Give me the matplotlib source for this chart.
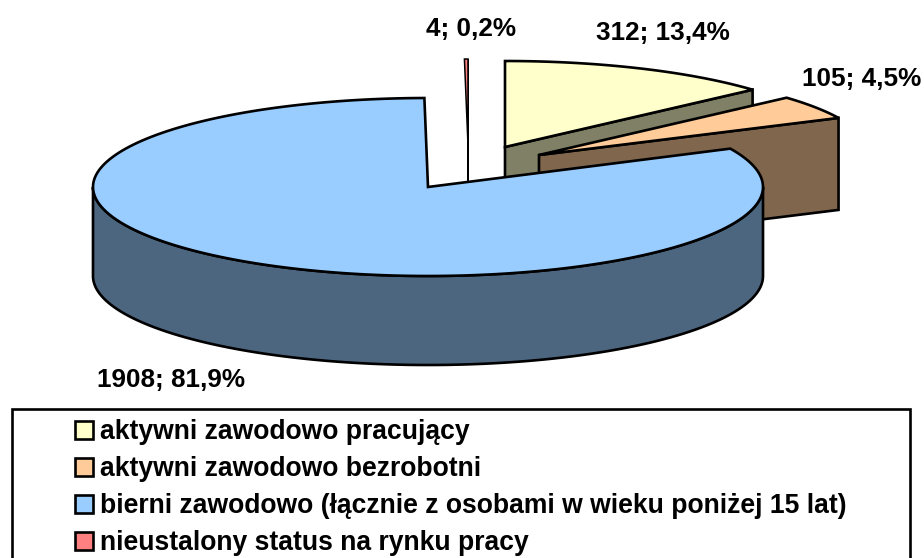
import matplotlib
matplotlib.use('Agg')
import matplotlib.pyplot as plt
from matplotlib.patches import Polygon, Rectangle, Patch
import numpy as np

plt.rcParams['font.family'] = ['Liberation Sans', 'DejaVu Sans']

categories = ['aktywni zawodowo pracujący', 'aktywni zawodowo bezrobotni',
              'bierni zawodowo (łącznie z osobami w wieku poniżej 15 lat)',
              'nieustalony status na rynku pracy']
counts = [312, 105, 1908, 4]
shares = ['13,4%', '4,5%', '81,9%', '0,2%']

top_colors = ['#FFFFCC', '#FFCC99', '#99CCFF', '#FF8080']
wall_colors = ['#808066', '#80664D', '#4D6680', '#804040']
centers = [(505, 147), (539, 155), (428, 187), (468, 145)]
radii = [(332, 86), (332, 86), (335, 89), (332, 86)]
depths = [92, 92, 89, 92]
edge_widths = [1.9, 1.9, 1.9, 1.1]
label_pos = [(663, 33), (862, 79), (171, 380), (471, 29)]

fig = plt.figure(figsize=(9.24, 5.58), dpi=100)
ax = fig.add_axes([0, 0, 1, 1])
ax.set_xlim(0, 924)
ax.set_ylim(558, 0)
ax.axis('off')


def rim(c, r, a):
    # a is degrees clockwise from 12 o'clock
    t = np.radians(a)
    return np.column_stack([c[0] + r[0] * np.sin(t), c[1] - r[1] * np.cos(t)])


fractions = np.array(counts) / sum(counts)
edges = np.concatenate([[0], np.cumsum(fractions)]) * 360

# back to front: pink, yellow, orange, blue
for i in [3, 0, 1, 2]:
    c, r, d, lw = centers[i], radii[i], depths[i], edge_widths[i]
    a0, a1 = edges[i], edges[i + 1]
    arc = rim(c, r, np.linspace(a0, a1, 200))

    # cut face that looks at the viewer
    if i != 2:
        cut = np.array([c, arc[-1], arc[-1] + [0, d], [c[0], c[1] + d]])
        ax.add_patch(Polygon(cut, fc=wall_colors[i], ec='black', lw=lw, joinstyle='miter'))
    else:
        # outer wall, front half only
        front = rim(c, r, np.linspace(max(a0, 90), min(a1, 270), 200))
        wall = np.vstack([front, (front + [0, d])[::-1]])
        ax.add_patch(Polygon(wall, fc=wall_colors[i], ec='black', lw=lw))

    top = np.vstack([[c], arc])
    ax.add_patch(Polygon(top, fc=top_colors[i], ec='black', lw=lw, joinstyle='miter'))

for n, s, (x, y) in zip(counts, shares, label_pos):
    ax.text(x, y, f'{n}; {s}', ha='center', va='center', fontsize=18.8, fontweight='bold')

# legend box runs off the bottom of the picture
ax.add_patch(Rectangle((12, 409), 898, 160, fc='white', ec='black', lw=1.9, clip_on=True))
handles = [Patch(fc=col, ec='black', lw=1.9) for col in top_colors]
ax.legend(handles, categories, loc='upper left', bbox_to_anchor=(75 / 924, 1 - 419 / 558),
          borderaxespad=0, borderpad=0, frameon=False, prop={'size': 19.1, 'weight': 'bold'},
          handlelength=0.68, handleheight=0.68, handletextpad=0.27, labelspacing=0.42)

fig.savefig('out.png', dpi=100)
